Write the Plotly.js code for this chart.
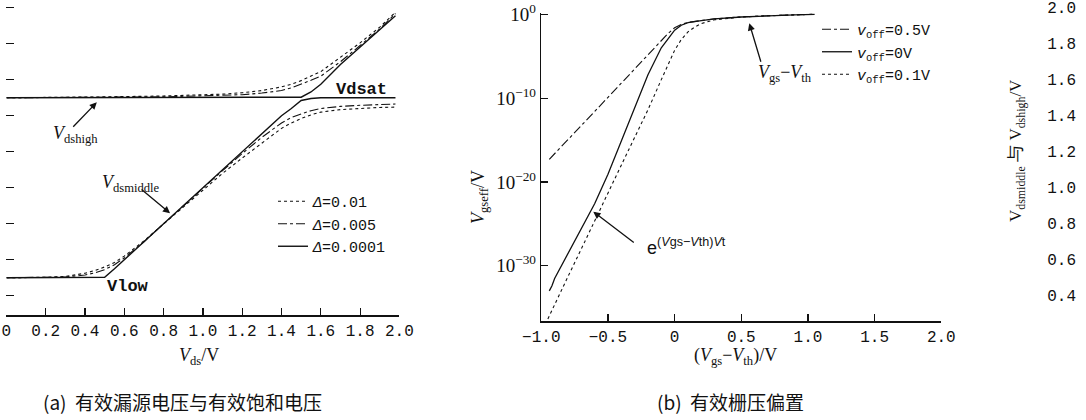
<!DOCTYPE html>
<html><head><meta charset="utf-8">
<script src="https://cdn.plot.ly/plotly-3.0.1.min.js"></script>
<style>html,body{margin:0;padding:0;background:#fff;} #chart{width:1086px;height:420px;}</style>
</head><body><div id="chart"></div>
<script>
// ---------- Panel (a): effective drain-source voltage ----------
const xa = [0, 0.1, 0.2, 0.3, 0.4, 0.45, 0.5, 0.55, 0.6, 0.7, 0.8, 0.9, 1.0, 1.1, 1.2, 1.3, 1.4, 1.45, 1.5, 1.55, 1.6, 1.7, 1.8, 1.9, 1.98];
// Vdsmiddle
const midD0001 = [0.5,0.5,0.5,0.5,0.5,0.5,0.503,0.55,0.6,0.7,0.8,0.9,1.0,1.1,1.2,1.3,1.4,1.44,1.485,1.496,1.5,1.5,1.5,1.5,1.5];
const midD005  = [0.5,0.5,0.501,0.504,0.515,0.527,0.545,0.572,0.61,0.70,0.80,0.90,1.0,1.095,1.19,1.28,1.36,1.39,1.41,1.428,1.44,1.452,1.458,1.462,1.465];
const midD01   = [0.5,0.5,0.502,0.507,0.525,0.54,0.56,0.585,0.62,0.705,0.80,0.895,0.99,1.08,1.165,1.25,1.33,1.36,1.385,1.405,1.42,1.434,1.442,1.446,1.448];
// Vdshigh
const highD0001 = [1.5,1.5,1.5,1.5,1.5,1.5,1.5,1.5,1.5,1.5,1.5,1.5,1.5,1.5,1.5,1.5,1.5,1.5,1.503,1.532,1.575,1.685,1.78,1.875,1.955];
const highD005  = [1.5,1.5,1.5,1.5,1.501,1.501,1.502,1.502,1.503,1.504,1.505,1.507,1.509,1.512,1.517,1.526,1.54,1.555,1.575,1.597,1.62,1.70,1.79,1.882,1.968];
const highD01   = [1.5,1.5,1.5,1.5,1.503,1.504,1.505,1.505,1.506,1.508,1.51,1.512,1.515,1.52,1.528,1.54,1.56,1.575,1.595,1.62,1.645,1.725,1.805,1.892,1.975];
const legendA = ["<i>Δ</i>=0.01", "<i>Δ</i>=0.005", "<i>Δ</i>=0.0001"];
const xaTickVals = [0,0.2,0.4,0.6,0.8,1.0,1.2,1.4,1.6,1.8,2.0];
const xaTickText = ["0","0.2","0.4","0.6","0.8","1.0","1.2","1.4","1.6","1.8","2.0"];
const yaTickVals = [0.4,0.6,0.8,1.0,1.2,1.4,1.6,1.8,2.0];
const yaTickText = ["0.4","0.6","0.8","1.0","1.2","1.4","1.6","1.8","2.0"];

// ---------- Panel (b): effective gate overdrive ----------
const xbOff05 = [-0.94,-0.8,-0.6,-0.4,-0.2,-0.1,-0.05,0,0.05,0.1,0.2,0.3,0.5,0.7,0.9,1.05];
const ybOff05 = [5e-18,1e-15,2.5e-12,6e-9,1.3e-5,6e-4,5e-3,2.5e-2,6e-2,0.11,0.19,0.29,0.49,0.69,0.89,1.0];
const xbOff0  = [-0.94,-0.92,-0.9,-0.8,-0.7,-0.6,-0.5,-0.4,-0.3,-0.2,-0.1,-0.05,0,0.05,0.1,0.2,0.3,0.5,0.7,0.9,1.05];
const ybOff0  = [1e-33,4e-33,3e-32,3e-29,2e-26,2.5e-23,8e-20,8e-16,5e-12,6e-8,1e-4,1e-3,1.3e-2,5e-2,0.1,0.18,0.28,0.48,0.68,0.87,1.0];
const xbOff01 = [-0.97,-0.9,-0.8,-0.7,-0.6,-0.5,-0.4,-0.3,-0.2,-0.1,0,0.05,0.1,0.15,0.2,0.3,0.4,0.5,0.7,0.9,1.05];
const ybOff01 = [1e-37,2.5e-35,5e-32,1e-28,2.5e-25,5e-22,1e-18,2e-15,4e-12,1.6e-8,5e-5,1e-3,8e-3,3e-2,8e-2,0.22,0.35,0.47,0.68,0.87,1.0];
const legendB = ["<i>v</i><sub>off</sub>=0.5V", "<i>v</i><sub>off</sub>=0V", "<i>v</i><sub>off</sub>=0.1V"];
const xbTickVals = [-1,-0.5,0,0.5,1,1.5,2];
const xbTickText = ["−1.0","−0.5","0","0.5","1.0","1.5","2.0"];
const ybTickVals = [1,1e-10,1e-20,1e-30];
const ybTickText = ["10<sup>0</sup>","10<sup>−10</sup>","10<sup>−20</sup>","10<sup>−30</sup>"];

// ---------- helpers ----------
const W = 1086, H = 420;
const px = v => v / W, py = v => 1 - v / H;
const MONO = '"Liberation Mono", "DejaVu Sans Mono", monospace';
const SERIF = '"Liberation Serif", "DejaVu Serif", serif';
const CJK = '"Noto Sans CJK SC", sans-serif';
const INK = '#111';
const joinCurves = (a, b) => ({x: xa.concat([null], xa), y: a.concat([null], b)});

const cA1 = joinCurves(midD01, highD01), cA2 = joinCurves(midD005, highD005), cA3 = joinCurves(midD0001, highD0001);
const traces = [
  {x:cA1.x, y:cA1.y, xaxis:'x', yaxis:'y', mode:'lines', name:legendA[0], legend:'legend', line:{color:INK,width:1.1,dash:'dot'}},
  {x:cA2.x, y:cA2.y, xaxis:'x', yaxis:'y', mode:'lines', name:legendA[1], legend:'legend', line:{color:INK,width:1.1,dash:'dashdot'}},
  {x:cA3.x, y:cA3.y, xaxis:'x', yaxis:'y3', mode:'lines', name:legendA[2], legend:'legend', line:{color:INK,width:1.4}},
  {x:xbOff05, y:ybOff05, xaxis:'x2', yaxis:'y2', mode:'lines', name:legendB[0], legend:'legend2', line:{color:INK,width:1.1,dash:'dashdot'}},
  {x:xbOff0,  y:ybOff0,  xaxis:'x2', yaxis:'y2', mode:'lines', name:legendB[1], legend:'legend2', line:{color:INK,width:1.3}},
  {x:xbOff01, y:ybOff01, xaxis:'x2', yaxis:'y2', mode:'lines', name:legendB[2], legend:'legend2', line:{color:INK,width:1.1,dash:'dot'}}
];

const tickFont = {family:MONO, size:16, color:INK};
const yaRange = [0.293, 2.043];
// text annotation helper (pixel position of the text centre)
const T = (x, y, text, font, extra) => Object.assign({xref:'paper', yref:'paper', x:px(x), y:py(y), text:text,
  showarrow:false, xanchor:'center', yanchor:'middle', font:font}, extra || {});
const ARROW = {text:'', showarrow:true, arrowhead:2, arrowsize:1.1, arrowwidth:1.3, arrowcolor:INK, standoff:0, startstandoff:0};

const layout = {
  width:W, height:H, margin:{l:0,r:0,t:0,b:0}, paper_bgcolor:'#fff', plot_bgcolor:'rgba(0,0,0,0)',
  showlegend:true, hovermode:false,
  xaxis:{domain:[px(6.4), px(399.4)], range:[0,2], anchor:'y', tickvals:xaTickVals, ticktext:xaTickText,
         ticks:'inside', ticklen:7, tickwidth:1.2, tickcolor:INK, showline:true, linecolor:INK, linewidth:1.5,
         showgrid:false, zeroline:false, tickfont:tickFont, automargin:false},
  yaxis:{domain:[py(315), 1], range:yaRange, anchor:'x', tickvals:yaTickVals, showticklabels:false,
         ticks:'inside', ticklen:8, tickwidth:1.2, tickcolor:INK, showline:false, showgrid:false, zeroline:false, automargin:false},
  yaxis3:{overlaying:'y', anchor:'free', position:px(1076), side:'left', range:yaRange, tickvals:yaTickVals, ticktext:yaTickText,
          ticks:'', showline:false, showgrid:false, zeroline:false, tickfont:tickFont, automargin:false},
  xaxis2:{domain:[px(541.3), px(941.3)], range:[-1,2], anchor:'y2', tickvals:xbTickVals, ticktext:xbTickText,
          ticks:'inside', ticklen:7, tickwidth:1.2, tickcolor:INK, showline:true, linecolor:INK, linewidth:1.5,
          showgrid:false, zeroline:false, tickfont:tickFont, automargin:false},
  yaxis2:{domain:[py(321), py(13.3)], type:'log', range:[-36.6, 0.12], anchor:'x2', tickvals:ybTickVals, ticktext:ybTickText,
          ticks:'inside', ticklen:7, tickwidth:1.2, tickcolor:INK, showline:true, linecolor:INK, linewidth:1.5,
          showgrid:false, zeroline:false, tickfont:{family:SERIF, size:19, color:INK}, automargin:false},
  legend:{x:px(273), y:py(185), xanchor:'left', yanchor:'top', font:{family:MONO, size:15, color:INK}, bgcolor:'rgba(0,0,0,0)', tracegroupgap:0},
  legend2:{x:px(817), y:py(13), xanchor:'left', yanchor:'top', font:{family:MONO, size:15, color:INK}, bgcolor:'rgba(0,0,0,0)', tracegroupgap:0},
  annotations:[
    // panel (a) labels
    T(361.7, 89, '<b>Vdsat</b>', {family:MONO,size:17,color:INK}),
    T(128, 286, '<b>Vlow</b>', {family:MONO,size:17,color:INK}),
    T(51, 134, '<i>V</i><sub>dshigh</sub>', {family:SERIF,size:18,color:INK}, {xanchor:'left'}),
    T(100, 183, '<i>V</i><sub>dsmiddle</sub>', {family:SERIF,size:18,color:INK}, {xanchor:'left'}),
    Object.assign({xref:'x', yref:'y', x:0.46, y:1.475, ax:-25, ay:26}, ARROW),
    Object.assign({xref:'x', yref:'y', x:0.833, y:0.858, ax:-30, ay:-25}, ARROW),
    T(199, 356, '<i>V</i><sub>ds</sub>/V', {family:SERIF,size:18,color:INK}),
    T(1017, 151, 'V<sub>dsmiddle</sub> 与 V<sub>dshigh</sub>/V', {family:SERIF,size:17,color:INK}, {textangle:-90}),
    T(182, 401, '(a)  有效漏源电压与有效饱和电压', {family:CJK,size:19,color:INK}),
    // panel (b) labels
    T(756, 73, '<i>V</i><sub>gs</sub>−<i>V</i><sub>th</sub>', {family:SERIF,size:18,color:INK}, {xanchor:'left'}),
    Object.assign({xref:'x2', yref:'y2', x:0.56, y:-1.07, ax:12, ay:40}, ARROW),
    T(645, 246, 'e<sup>(<i>V</i>gs−<i>V</i>th)<i>V</i>t</sup>', {family:'"Liberation Sans", sans-serif',size:18,color:INK}, {xanchor:'left'}),
    Object.assign({xref:'x2', yref:'y2', x:-0.61, y:-23.56, ax:42, ay:32}, ARROW),
    T(735, 356, '(<i>V</i><sub>gs</sub>−<i>V</i><sub>th</sub>)/V', {family:SERIF,size:18,color:INK}),
    T(479, 197, '<i>V</i><sub>gseff</sub>/V', {family:SERIF,size:18,color:INK}, {textangle:-90}),
    T(730, 401, '(b)  有效栅压偏置', {family:CJK,size:19,color:INK})
  ]
};
Plotly.newPlot('chart', traces, layout, {displayModeBar:false, staticPlot:true});
</script></body></html>
